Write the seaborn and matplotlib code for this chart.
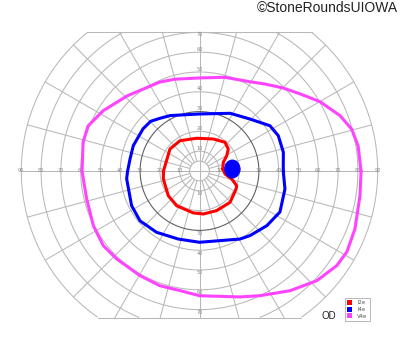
import numpy as np
import pandas as pd
import matplotlib
matplotlib.use("Agg")
import matplotlib.pyplot as plt
from matplotlib.patches import Ellipse, Patch
import seaborn as sns

# ---------------- data (meridian angle in degrees, eccentricity in degrees) ----------------
v4e_angle = [0, 9, 15.4, 21.5, 29.9, 37.5, 44.8, 53, 60.5, 75, 90, 105, 114, 134, 148, 158, 166, 180,
             184, 193.9, 207.3, 217.8, 226.7, 240.4, 251, 260.7, 270, 287.8, 295.9, 307.1,
             316.9, 325.4, 331.2, 339.5, 351.3]
v4e_ecc = [81.6, 81.1, 79.7, 76.3, 70.2, 64, 59.5, 55, 51.8, 49, 47, 48, 49.2, 52.7, 57.4, 60.7, 60.6, 59.3,
           58.8, 58.7, 60.3, 61.5, 61, 60.8, 61.3, 61.2, 63, 66.8, 70, 75.8,
           81.1, 84.2, 84.9, 83.8, 82]

i4e_angle = [0, 12.6, 24.1, 32.7, 45.8, 62, 90, 118, 127, 134.5, 143.2, 159, 170, 180, 186,
             207, 219.9, 235, 252.7, 270, 300.8, 308, 320.9, 333, 348.1]
i4e_ecc = [42.3, 43.4, 43.6, 42.3, 36.6, 33, 28.8, 31.7, 33.3, 35.2, 35.6, 35.8, 35.6, 36.3, 37,
           38.5, 39.2, 37.8, 36, 36, 40, 41.4, 43.8, 45.6, 44.1]

i2e_angle = [5, 20, 29.4, 37.4, 48.4, 66.7, 95, 122.8, 143.3, 180, 192.5, 218.4, 236.7, 261.6,
             275, 293.4, 314.3, 333.7, 338.4, 346, 353.3]
i2e_ecc = [11.8, 12.8, 15.8, 18.3, 19.4, 17.6, 16.6, 18.2, 18.6, 18.2, 18.7, 20.1, 21, 21.4,
           21.8, 21.8, 22.1, 20.6, 20.2, 16.8, 13]

blind_spot_center = (16.6, 1.0)
blind_spot_size = (7.7, 9.0)

isopter_names = ["I2e", "I4e", "V4e"]
isopter_colors = ["#ff0000", "#0000ff", "#ff44ff"]

ring_values = [10, 20, 30, 40, 50, 60, 70, 80, 90]
h_tick_labels = ["10", "20", "30", "40", "50", "60", "70", "80", "90"]
v_tick_labels = ["10", "20", "30", "40", "50", "60", "70"]
meridians = list(range(0, 360, 15))

# ---------------- layout ----------------
W, H = 400, 352
S = 1.98          # px per degree
CX, CY = 199.5, 171.0
TOP, BOT, RMAX = 70.0, -74.0, 90.0

sns.set_style("white")
fig = plt.figure(figsize=(W / 100, H / 100), dpi=100)
ax = fig.add_axes([0, 0, 1, 1])
ax.set_xlim(-CX / S, (W - CX) / S)
ax.set_ylim((CY - H) / S, CY / S)
ax.axis("off")

grid_kw = dict(color="#b8b8b8", lw=0.75, zorder=1)

# rings
t = np.linspace(0, 2 * np.pi, 721)
for r in [5] + ring_values:
    x = r * np.cos(t)
    y = r * np.sin(t)
    m = (y > TOP) | (y < BOT)
    x = np.where(m, np.nan, x)
    y = np.where(m, np.nan, y)
    if r == 30:
        ax.plot(x, y, color="#606060", lw=0.8, zorder=1.5)
    else:
        ax.plot(x, y, **grid_kw)

# radial lines
for a in meridians:
    th = np.deg2rad(a)
    s = np.sin(th)
    rmax = RMAX
    if s > 1e-9:
        rmax = min(RMAX, TOP / s)
    elif s < -1e-9:
        rmax = min(RMAX, BOT / s)
    r0 = 0 if a % 90 == 0 else 5
    ax.plot([r0 * np.cos(th), rmax * np.cos(th)], [r0 * np.sin(th), rmax * np.sin(th)], **grid_kw)

# top / bottom clip lines
for yy in (TOP, BOT):
    xx = np.sqrt(RMAX ** 2 - yy ** 2)
    ax.plot([-xx, xx], [yy, yy], **grid_kw)

# tick labels
lab_kw = dict(fontsize=3.6, color="#8a8a8a", ha="center", va="center", zorder=2)
for r, lab in zip(ring_values, h_tick_labels):
    ax.text(r, 0, lab, **lab_kw)
    ax.text(-r, 0, lab, **lab_kw)
for r, lab in zip(ring_values, v_tick_labels):
    ax.text(0, min(r + 1.5, TOP - 1.2), lab, **lab_kw)
    ax.text(0, -(r + 1.5), lab, **lab_kw)

# isopters
frames = []
for name, ang, ecc in [("I2e", i2e_angle, i2e_ecc), ("I4e", i4e_angle, i4e_ecc), ("V4e", v4e_angle, v4e_ecc)]:
    aa = np.deg2rad(np.array(ang + [ang[0]]))
    e = np.array(ecc + [ecc[0]])
    frames.append(pd.DataFrame({"x": e * np.cos(aa), "y": e * np.sin(aa), "isopter": name}))
df = pd.concat(frames, ignore_index=True)
sns.lineplot(data=df, x="x", y="y", hue="isopter", hue_order=isopter_names,
             palette=isopter_colors, sort=False, estimator=None, units="isopter",
             lw=2.2, legend=False, ax=ax, zorder=3)
ax.set_xlim(-CX / S, (W - CX) / S)
ax.set_ylim((CY - H) / S, CY / S)
ax.axis("off")

# blind spot
ax.add_patch(Ellipse(blind_spot_center, blind_spot_size[0], blind_spot_size[1],
                     facecolor="#0000ff", edgecolor="#0000ff", lw=0.8, zorder=4))

# legend
handles = [Patch(facecolor=c, edgecolor="none", label=n) for n, c in zip(isopter_names, isopter_colors)]
leg = fig.legend(handles=handles, loc="upper left", bbox_to_anchor=(345 / W, 1 - 298 / H),
                 fontsize=3.8, frameon=True, fancybox=False, edgecolor="#999999",
                 handlelength=1.0, handleheight=1.1, handletextpad=0.9, borderpad=0.4,
                 labelspacing=0.25, borderaxespad=0)
leg.get_frame().set_linewidth(0.6)
for tx in leg.get_texts():
    tx.set_color("#555555")

fig.text(321 / W, 1 - 316 / H, "OD", ha="left", va="center", fontsize=7,
         family="Liberation Sans", color="#222222")
fig.text(398 / W, 1 - 8 / H, "\u00a9StoneRoundsUIOWA", ha="right", va="center",
         fontsize=10, family="Liberation Sans", color="#222222")

fig.savefig("out.png", dpi=100)
